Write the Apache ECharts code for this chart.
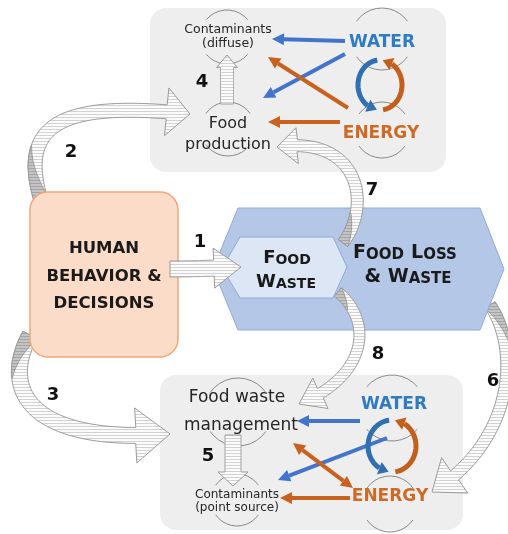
<!DOCTYPE html>
<html>
<head>
<meta charset="utf-8">
<title>Food loss &amp; waste nexus</title>
<script src="https://cdn.jsdelivr.net/npm/echarts@6/dist/echarts.min.js"></script>
<style>
  html, body { margin: 0; background: #fff; }
  #chart { width: 508px; height: 534px; }
</style>
</head>
<body>
<div id="chart"></div>
<script>
// diagram units are canvas px, mapped through a hidden value grid
const panels = [[150, 8, 446, 172], [160, 375, 463, 530]]

const humanBox = [30, 192, 178, 357]
const humanText = ['HUMAN', 'BEHAVIOR &', 'DECISIONS']

const lossHex = [[213, 269], [238, 208], [480, 208], [504, 269], [480, 330], [238, 330]]
const wasteHex = [[222, 268], [240, 237], [333, 237], [347, 267], [333, 298], [240, 298]]

// thin circles round each node: [cx, cy, r, half angle of visible arcs]
const nodeCircles = [
  [227, 37, 27, 50], [228, 129, 27, 55], [382, 39, 31, 55], [382, 130, 28, 55],
  [238, 412, 34, 55], [237, 500, 26, 55], [392, 408, 33, 50], [390, 504, 28, 55]
]

// numbered flows (hatched arrows): bezier ctrl, body width, head width, head length
const flowsBack = [
  { id: 2, ctrl: [[40, 197], [20, 125], [60, 100], [190, 114]], w: 14, hw: 48, hl: 22, twist: 0.3, side: -1 },
  { id: 3, ctrl: [[30, 335], [0, 390], [30, 445], [170, 434]], w: 16, hw: 55, hl: 30, twist: 0.3, side: 1 },
  { id: 6, ctrl: [[490, 305], [520, 350], [515, 440], [432, 492]], w: 12, hw: 44, hl: 28, twist: 0.3, side: -1 }
]
const flowsMid = [
  { id: 7, ctrl: [[343, 243], [372, 205], [360, 135], [277, 147]], w: 12, hw: 36, hl: 20, twist: 0.25, side: -1 },
  { id: 8, ctrl: [[338, 292], [372, 320], [370, 375], [299, 404]], w: 11, hw: 34, hl: 22, twist: 0.2, side: 1 }
]
const flowsFront = [
  { id: 1, ctrl: [[170, 269], [194, 269], [218, 268], [241, 267]], w: 16, hw: 40, hl: 27 },
  { id: 4, ctrl: [[227, 104], [227, 88], [227, 72], [227, 55]], w: 13, hw: 21, hl: 12 },
  { id: 5, ctrl: [[233, 435], [233, 452], [233, 469], [233, 486]], w: 16, hw: 30, hl: 14 }
]
const flowNumbers = [['1', 200, 242], ['2', 71, 152], ['3', 53, 395], ['4', 202, 82],
  ['5', 208, 456], ['6', 493, 381], ['7', 372, 190], ['8', 378, 354]]

// water / energy links inside the panels
const links = [
  { from: [345, 41], to: [272, 39], color: 'blue' },
  { from: [345, 54], to: [263, 98], color: 'blue' },
  { from: [348, 108], to: [268, 57], color: 'orange' },
  { from: [340, 122], to: [268, 122], color: 'orange' },
  { from: [360, 421], to: [297, 421], color: 'blue' },
  { from: [387, 438], to: [278, 480], color: 'blue' },
  { from: [353, 488], to: [293, 443], color: 'orange', both: true },
  { from: [350, 498], to: [280, 498], color: 'orange' }
]
// water-energy cycles: centre, radii, arc angles (deg, drawn counter-clockwise)
const cycles = [
  { c: [380, 85], rx: 22, ry: 25, blue: [-97, -262], orange: [82, -83] },
  { c: [392, 446], rx: 24, ry: 26, blue: [-97, -262], orange: [82, -83] }
]

const labels = [
  ['Contaminants', 228, 30, 'node-s'], ['(diffuse)', 228, 44, 'node-s'],
  ['Food', 228, 124, 'node-m'], ['production', 228, 145, 'node-m'],
  ['WATER', 382, 43, 'water'], ['ENERGY', 381, 134, 'energy'],
  ['Food waste', 237, 398, 'node-l'], ['management', 241, 426, 'node-l'],
  ['Contaminants', 237, 495, 'node-s2'], ['(point source)', 237, 508, 'node-s2'],
  ['WATER', 394, 405, 'water'], ['ENERGY', 390, 497, 'energy']
]
const smallCaps = [['F', 'OOD', 287, 258, 18, 14], ['W', 'ASTE', 286, 282, 18, 14],
  ['F', 'OOD ', 381, 253, 19, 15], ['L', 'OSS', 434, 253, 19, 15], ['& W', 'ASTE', 408, 277, 19, 15]]

const colors = {
  panel: '#eeeeee', human: '#fbdcc9', humanLine: '#f0a77b',
  loss: '#b4c7e7', waste: '#dce6f4', hexLine: '#8eaadb',
  blue: '#4274cc', orange: '#c8621e', cycBlue: '#2f6fb2', cycOrange: '#c35f1c',
  water: '#2f7bc4', energy: '#cf6a26', arrowLine: '#9b9b9b', ring: '#8a8a8a'
}
const fonts = {
  'node-s': '12.5px "DejaVu Sans"', 'node-s2': '12px "DejaVu Sans"',
  'node-m': '16px "DejaVu Sans"', 'node-l': '17px "DejaVu Sans"',
  water: 'bold 17px "DejaVu Sans"', energy: 'bold 17px "DejaVu Sans"'
}

const hatchCanvas = (bg, line) => {
  const cv = document.createElement('canvas')
  cv.width = 6; cv.height = 3
  const g = cv.getContext('2d')
  g.fillStyle = bg; g.fillRect(0, 0, 6, 3)
  g.fillStyle = line; g.fillRect(0, 0, 6, 1)
  return cv
}
const hatchLight = { image: hatchCanvas('#fbfbfb', '#d2d2d2'), repeat: 'repeat' }
const hatchDark = { image: hatchCanvas('#c4c4c4', '#a4a4a4'), repeat: 'repeat' }

const bez = (p, t) => {
  const u = 1 - t
  return [0, 1].map(k => u * u * u * p[0][k] + 3 * u * u * t * p[1][k] + 3 * u * t * t * p[2][k] + t * t * t * p[3][k])
}

// outline of a band arrow following a bezier, head ends at the last point
const flowShape = f => {
  const N = 80, pts = []
  for (let i = 0; i <= N; i++) pts.push(bez(f.ctrl, i / N))
  const tip = pts[N]
  let cut = N, acc = 0
  while (cut > 1 && acc < f.hl) { acc += Math.hypot(pts[cut][0] - pts[cut - 1][0], pts[cut][1] - pts[cut - 1][1]); cut-- }
  const body = pts.slice(0, cut + 1)
  const left = [], right = []
  body.forEach((q, i) => {
    const a = body[Math.max(i - 1, 0)], b = body[Math.min(i + 1, body.length - 1)]
    const L = Math.hypot(b[0] - a[0], b[1] - a[1])
    const nx = -(b[1] - a[1]) / L, ny = (b[0] - a[0]) / L
    left.push([q[0] + nx * f.w / 2, q[1] + ny * f.w / 2])
    right.push([q[0] - nx * f.w / 2, q[1] - ny * f.w / 2])
  })
  const base = body[body.length - 1]
  const L = Math.hypot(tip[0] - base[0], tip[1] - base[1])
  const nx = -(tip[1] - base[1]) / L, ny = (tip[0] - base[0]) / L
  const outline = left.concat([[base[0] + nx * f.hw / 2, base[1] + ny * f.hw / 2], tip,
    [base[0] - nx * f.hw / 2, base[1] - ny * f.hw / 2]], right.slice().reverse())
  let twist = null
  if (f.twist) {
    const k = Math.round(body.length * f.twist)
    const edge = f.side > 0 ? left : right, other = f.side > 0 ? right : left
    const inner = []
    for (let i = 0; i < k; i++) {
      const s = i / k
      inner.push([other[i][0] + (edge[i][0] - other[i][0]) * s, other[i][1] + (edge[i][1] - other[i][1]) * s])
    }
    twist = edge.slice(0, k).concat(inner.reverse())
  }
  return { outline, twist }
}

const flowEls = (list, c) => {
  const out = []
  list.forEach(f => {
    const s = flowShape(f)
    out.push({ type: 'polygon', shape: { points: s.outline.map(c) },
      style: { fill: hatchLight, stroke: colors.arrowLine, lineWidth: 1 } })
    if (s.twist) out.push({ type: 'polygon', shape: { points: s.twist.map(c) },
      style: { fill: hatchDark, stroke: colors.arrowLine, lineWidth: 1 } })
  })
  return out
}

const headPts = (tip, from, hl, hw) => {
  const L = Math.hypot(tip[0] - from[0], tip[1] - from[1])
  const dx = (tip[0] - from[0]) / L, dy = (tip[1] - from[1]) / L
  const b = [tip[0] - dx * hl, tip[1] - dy * hl]
  return { base: b, tri: [[b[0] - dy * hw / 2, b[1] + dx * hw / 2], tip, [b[0] + dy * hw / 2, b[1] - dx * hw / 2]] }
}

const linkEls = c => {
  const out = []
  links.forEach(l => {
    const col = colors[l.color]
    const h = headPts(l.to, l.from, 12, 12)
    let start = l.from
    if (l.both) {
      const h2 = headPts(l.from, l.to, 12, 12)
      start = h2.base
      out.push({ type: 'polygon', shape: { points: h2.tri.map(c) }, style: { fill: col } })
    }
    out.push({ type: 'line', shape: { x1: c(start)[0], y1: c(start)[1], x2: c(h.base)[0], y2: c(h.base)[1] },
      style: { stroke: col, lineWidth: 4 } })
    out.push({ type: 'polygon', shape: { points: h.tri.map(c) }, style: { fill: col } })
  })
  cycles.forEach(cy => {
    [['blue', colors.cycBlue], ['orange', colors.cycOrange]].forEach(([k, col]) => {
      const [a0, a1] = cy[k].map(d => d * Math.PI / 180)
      const pt = a => [cy.c[0] + cy.rx * Math.cos(a), cy.c[1] + cy.ry * Math.sin(a)]
      const aEnd = a1 + 10 / cy.rx
      const pts = []
      for (let i = 0; i <= 30; i++) pts.push(pt(a0 + (aEnd - a0) * i / 30))
      out.push({ type: 'polyline', shape: { points: pts.map(c) }, style: { stroke: col, lineWidth: 5, fill: null } })
      const h = headPts(pt(a1), pt(aEnd), 10, 13)
      out.push({ type: 'polygon', shape: { points: h.tri.map(c) }, style: { fill: col } })
    })
  })
  return out
}

const ringEls = c => {
  const out = []
  nodeCircles.forEach(([x, y, r, a]) => {
    const p = c([x, y]), rr = c([x + r, y])[0] - p[0], h = a * Math.PI / 180
    ;[-Math.PI / 2, Math.PI / 2].forEach(m => out.push({ type: 'arc',
      shape: { cx: p[0], cy: p[1], r: rr, startAngle: m - h, endAngle: m + h, clockwise: true },
      style: { stroke: colors.ring, fill: null, lineWidth: 1 } }))
  })
  return out
}

const rectEl = (b, c, r, style) => {
  const p0 = c([b[0], b[1]]), p1 = c([b[2], b[3]])
  return { type: 'rect', shape: { x: p0[0], y: p0[1], width: p1[0] - p0[0], height: p1[1] - p0[1], r }, style }
}

const textEls = c => {
  const out = []
  labels.forEach(([t, x, y, kind]) => {
    const p = c([x, y])
    out.push({ type: 'text', style: { text: t, x: p[0], y: p[1], font: fonts[kind], align: 'center', verticalAlign: 'middle',
      fill: kind === 'water' ? colors.water : kind === 'energy' ? colors.energy : '#262626' } })
  })
  humanText.forEach((t, i) => {
    const p = c([104, 249 + i * 27.3])
    out.push({ type: 'text', style: { text: t, x: p[0], y: p[1], font: 'bold 16.5px "DejaVu Sans"',
      align: 'center', verticalAlign: 'middle', fill: '#1a1a1a' } })
  })
  smallCaps.forEach(([big, small, x, y, fb, fs]) => {
    const p = c([x, y])
    out.push({ type: 'text', style: { text: '{b|' + big + '}{s|' + small + '}', x: p[0], y: p[1], align: 'center', verticalAlign: 'middle',
      fill: '#1a1a1a', rich: {
        b: { font: 'bold ' + fb + 'px "DejaVu Sans"', verticalAlign: 'bottom', fill: '#1a1a1a' },
        s: { font: 'bold ' + fs + 'px "DejaVu Sans"', verticalAlign: 'bottom', fill: '#1a1a1a' } } } })
  })
  flowNumbers.forEach(([t, x, y]) => {
    const p = c([x, y])
    out.push({ type: 'text', style: { text: t, x: p[0], y: p[1], font: 'bold 18px "DejaVu Sans"',
      align: 'center', verticalAlign: 'middle', fill: '#111' } })
  })
  return out
}

const layer = (z, build) => ({
  type: 'custom', coordinateSystem: 'cartesian2d', z, silent: true, clip: false,
  data: [[0, 0]],
  renderItem: (params, api) => ({ type: 'group', children: build(p => api.coord(p)) })
})

const chart = echarts.init(document.getElementById('chart'), null, { renderer: 'canvas' })
chart.setOption({
  animation: false,
  backgroundColor: '#ffffff',
  grid: { left: 0, right: 0, top: 0, bottom: 0 },
  xAxis: { type: 'value', min: 0, max: 508, show: false },
  yAxis: { type: 'value', min: 0, max: 534, inverse: true, show: false },
  series: [
    layer(1, c => panels.map(b => rectEl(b, c, 16, { fill: colors.panel }))),
    layer(2, c => flowEls(flowsBack, c)),
    layer(3, c => [
      rectEl(humanBox, c, 18, { fill: colors.human, stroke: colors.humanLine, lineWidth: 1.5 }),
      { type: 'polygon', shape: { points: lossHex.map(c) }, style: { fill: colors.loss, stroke: colors.hexLine, lineWidth: 1 } }
    ]),
    layer(4, c => flowEls(flowsMid, c)),
    layer(5, c => [{ type: 'polygon', shape: { points: wasteHex.map(c) }, style: { fill: colors.waste, stroke: colors.hexLine, lineWidth: 1 } }]),
    layer(6, c => ringEls(c)),
    layer(7, c => linkEls(c)),
    layer(8, c => flowEls(flowsFront, c)),
    layer(9, c => textEls(c))
  ]
})
</script>
</body>
</html>
